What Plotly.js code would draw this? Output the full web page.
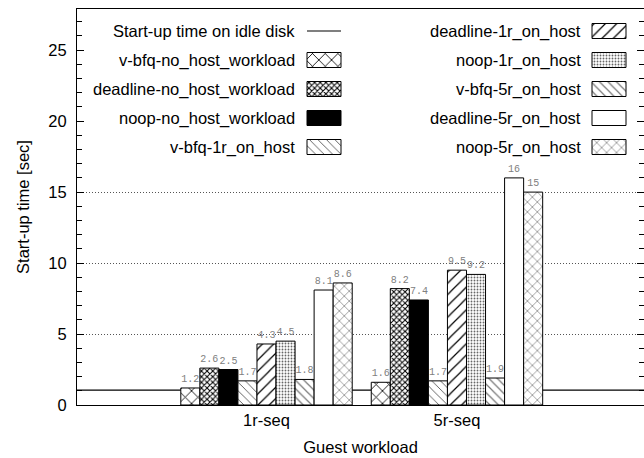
<!DOCTYPE html>
<html>
<head>
<meta charset="utf-8">
<script src="https://cdn.plot.ly/plotly-3.0.1.min.js"></script>
<style>html,body{margin:0;padding:0;background:#fff;}#chart{width:644px;height:458px;}</style>
</head>
<body>
<div id="chart"></div>
<script>
// ---- data ----
const categories = ['1r-seq', '5r-seq'];
const idleDisk = [1.05];
const vbfqNoHost = [1.2, 1.6];
const deadlineNoHost = [2.6, 8.2];
const noopNoHost = [2.5, 7.4];
const vbfq1r = [1.7, 1.7];
const deadline1r = [4.3, 9.5];
const noop1r = [4.5, 9.2];
const vbfq5r = [1.8, 1.9];
const deadline5r = [8.1, 16];
const noop5r = [8.6, 15];
const idleName = 'Start-up time on idle disk';
const seriesNames = ['v-bfq-no_host_workload', 'deadline-no_host_workload', 'noop-no_host_workload',
  'v-bfq-1r_on_host', 'deadline-1r_on_host', 'noop-1r_on_host',
  'v-bfq-5r_on_host', 'deadline-5r_on_host', 'noop-5r_on_host'];
const seriesValues = [vbfqNoHost, deadlineNoHost, noopNoHost, vbfq1r, deadline1r, noop1r, vbfq5r, deadline5r, noop5r];

// ---- styles ----
const styles = [
  {color: 'white', shape: 'x', size: 9, solidity: 0.18, fg: '#000'},
  {color: 'white', shape: 'x', size: 4, solidity: 0.45, fg: '#000'},
  {color: 'black', shape: '', size: 8, solidity: 0.2, fg: '#000'},
  {color: 'white', shape: '\\', size: 6, solidity: 0.15, fg: '#555'},
  {color: 'white', shape: '/', size: 8, solidity: 0.15, fg: '#000'},
  {color: 'white', shape: '.', size: 3, solidity: 0.3, fg: '#666'},
  {color: 'white', shape: '\\', size: 6, solidity: 0.2, fg: '#777'},
  {color: 'white', shape: '', size: 8, solidity: 0.2, fg: '#000'},
  {color: 'white', shape: 'x', size: 7, solidity: 0.15, fg: '#555'}
];
const FONT = 'Liberation Sans, Arial, sans-serif';
const FS = 16.5;
const xRange = [-0.995, 1.982];
const yRange = [0, 27.9];
// plot area in pixels (for the hand-made key overlay)
const PX = {left: 77, right: 644, top: 9, bottom: 405};

function pattern(s) {
  return {shape: s.shape, size: s.size, solidity: s.solidity, fgcolor: s.fg, bgcolor: s.color, fillmode: 'replace'};
}

const traces = seriesNames.map((name, i) => ({
  type: 'bar', name: name, x: categories, y: seriesValues[i],
  marker: {color: styles[i].color, line: {color: '#000', width: 1}, pattern: pattern(styles[i])},
  text: seriesValues[i].map(v => String(v)), textposition: 'outside', cliponaxis: false,
  constraintext: 'none',
  textfont: {family: 'Liberation Mono, DejaVu Sans Mono, monospace', size: 10, color: '#808080'},
  showlegend: false, hoverinfo: 'skip'
}));

// key (drawn by hand: text on the left, sample on the right, two columns)
const colTextRight = [297, 583];
const colSwatchLeft = [307, 592];
const swW = 34, swH = 15;
const rowY = r => 31 + r * 29;
const annotations = [];
const slots = [idleName].concat(seriesNames);
slots.forEach((name, k) => {
  const col = Math.floor(k / 5), row = k % 5;
  annotations.push({xref: 'x2', yref: 'y2', x: colTextRight[col], y: rowY(row), text: name,
    showarrow: false, xanchor: 'right', yanchor: 'middle', font: {family: FONT, size: FS, color: '#000'}});
  if (k > 0) {
    const s = styles[k - 1];
    traces.push({
      type: 'bar', xaxis: 'x2', yaxis: 'y2', x: [colSwatchLeft[col]], y: [swH], base: [rowY(row) - swH / 2],
      width: [swW], offset: [0],
      marker: {color: s.color, line: {color: '#000', width: 1}, pattern: pattern(s)},
      showlegend: false, hoverinfo: 'skip'
    });
  }
});
// right-hand mirrored ticks
traces.push({type: 'scatter', mode: 'markers', x: [], y: [], xaxis: 'x', yaxis: 'y3', showlegend: false, hoverinfo: 'skip'});

const shapes = [
  // idle-disk reference line, behind the bars
  {type: 'line', xref: 'x', yref: 'y', x0: xRange[0], x1: xRange[1], y0: idleDisk[0], y1: idleDisk[0],
   layer: 'below', line: {color: '#000', width: 1.1}},
  // opaque key box (hides grid lines behind the key)
  {type: 'rect', xref: 'x', yref: 'y', x0: xRange[0], x1: xRange[1], y0: 17.2, y1: yRange[1],
   layer: 'between', fillcolor: '#fff', line: {width: 0}},
  // key sample for the idle line
  {type: 'line', xref: 'x2', yref: 'y2', x0: colSwatchLeft[0], x1: colSwatchLeft[0] + swW, y0: rowY(0), y1: rowY(0),
   line: {color: '#000', width: 1.1}}
];

const tickCommon = {
  range: yRange, tickmode: 'linear', tick0: 0, dtick: 5, ticks: 'inside', ticklen: 7, tickcolor: '#000', tickwidth: 1,
  minor: {dtick: 1, ticks: 'inside', ticklen: 5, tickcolor: '#000', tickwidth: 1, showgrid: false},
  zeroline: false
};

const layout = {
  width: 644, height: 458,
  margin: {l: PX.left, r: 644 - PX.right, t: PX.top, b: 458 - PX.bottom},
  paper_bgcolor: '#fff', plot_bgcolor: '#fff',
  font: {family: FONT, size: FS, color: '#000'},
  barmode: 'group', bargap: 0.1, bargroupgap: 0,
  showlegend: false,
  xaxis: {
    type: 'category', range: xRange, showline: true, linecolor: '#000', linewidth: 1, mirror: true,
    ticks: '', showgrid: false, zeroline: false, tickfont: {size: FS},
    title: {text: 'Guest workload', font: {size: FS}, standoff: 13}
  },
  yaxis: Object.assign({}, tickCommon, {
    showline: true, linecolor: '#000', linewidth: 1, mirror: true,
    showgrid: true, gridcolor: '#555', griddash: '1px,2px', gridwidth: 1,
    tickfont: {size: FS}, ticklabelstandoff: 6,
    title: {text: 'Start-up time [sec]', font: {size: FS}, standoff: 14}
  }),
  yaxis3: Object.assign({}, tickCommon, {
    overlaying: 'y', side: 'right', anchor: 'x', showticklabels: false, showgrid: false, showline: false
  }),
  xaxis2: {overlaying: 'x', range: [PX.left, PX.right], visible: false, fixedrange: true},
  yaxis2: {overlaying: 'y', range: [PX.bottom, PX.top], visible: false, fixedrange: true},
  shapes: shapes,
  annotations: annotations
};

Plotly.newPlot('chart', traces, layout, {displayModeBar: false, staticPlot: true});
</script>
</body>
</html>
